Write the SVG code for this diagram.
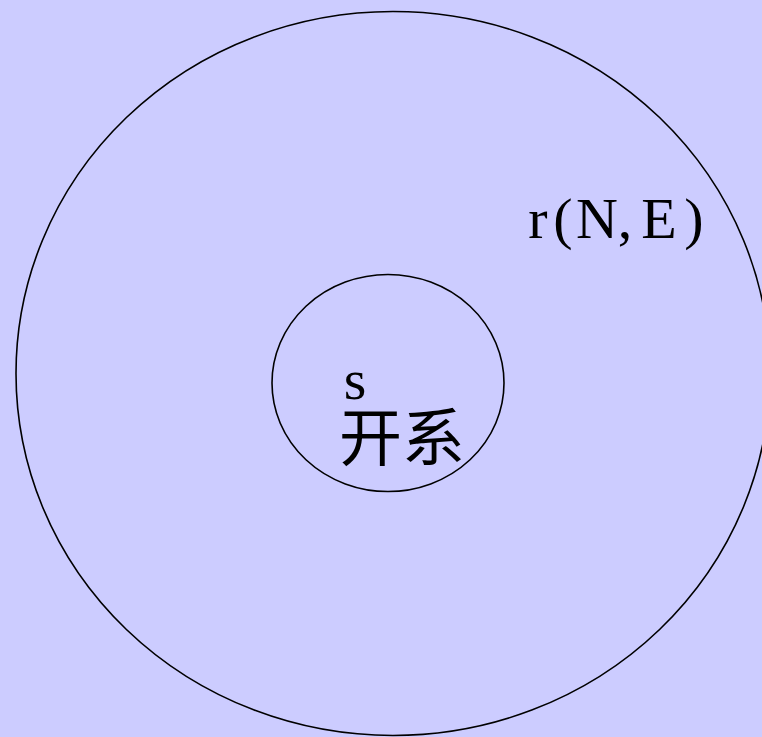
<svg xmlns="http://www.w3.org/2000/svg" width="762" height="737" viewBox="0 0 762 737">
<style>
.ring{fill:none;stroke:#000;stroke-width:1.6}
.lat{font-family:"Liberation Serif","DejaVu Serif",serif;fill:#000}
.cjk{font-family:"Noto Sans CJK SC","Noto Sans CJK JP",sans-serif;fill:#000}
</style>
<rect width="762" height="737" fill="#CCCCFF"/>
<g id="outer">
<ellipse class="ring" cx="393" cy="373.5" rx="377" ry="362"/>
<text class="lat" font-size="58" text-anchor="middle" x="538 563 597 625 659 694" y="238">r(N,E)</text>
</g>
<g id="inner">
<ellipse class="ring" cx="388" cy="383" rx="116" ry="108.5"/>
<text class="lat" font-size="58" text-anchor="middle" x="355" y="399">s</text>
<text class="cjk" font-size="63" x="339" y="460">开系</text>
</g>
<g id="connectors"/>
</svg>
